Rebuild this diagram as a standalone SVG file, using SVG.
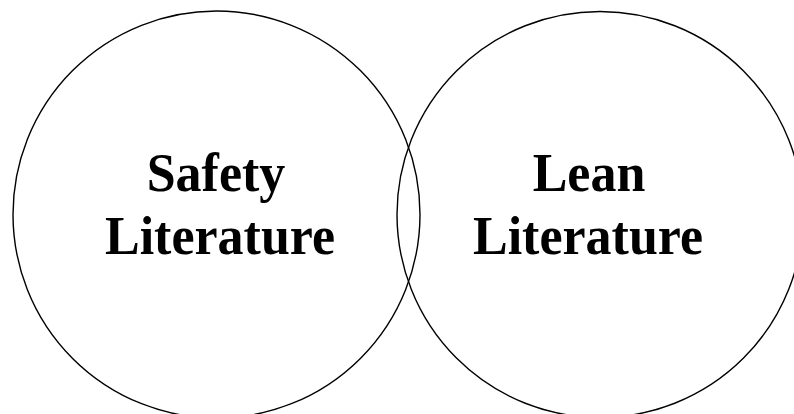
<svg xmlns="http://www.w3.org/2000/svg" width="794" height="414" viewBox="0 0 794 414">
<style>
.c{fill:none;stroke:#000;stroke-width:1.4}
.t{font-family:"Liberation Serif","Times New Roman",serif;font-weight:bold;font-size:52px;text-anchor:middle;fill:#000}
</style>
<rect width="794" height="414" fill="#fff"/>
<g id="safety">
<circle class="c" cx="216.5" cy="214.5" r="203.5"/>
<text class="t" transform="translate(216,191) scale(1,1.07)">Safety</text>
<text class="t" transform="translate(220,254) scale(1,1.07)">Literature</text>
</g>
<g id="lean">
<circle class="c" cx="600" cy="214.5" r="203"/>
<text class="t" transform="translate(589,191) scale(1,1.07)">Lean</text>
<text class="t" transform="translate(588,254) scale(1,1.07)">Literature</text>
</g>
<g id="connectors"></g>
</svg>
